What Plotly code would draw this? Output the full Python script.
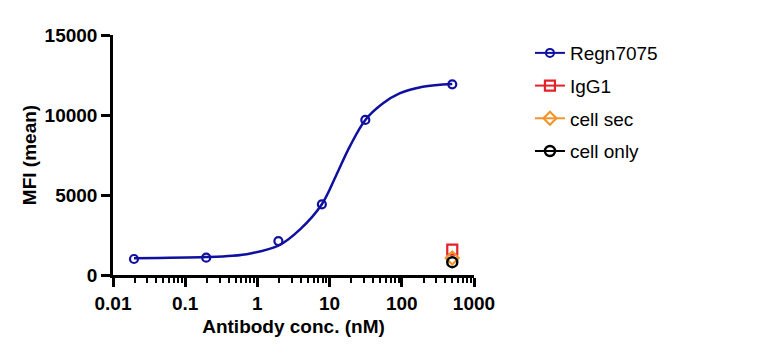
import plotly.graph_objects as go

# --- data ---
conc = [0.01953, 0.1953, 1.953, 7.8125, 31.25, 500]
regn7075 = [1000, 1080, 2120, 4420, 9690, 11920]

# fitted curve
fit_conc = [0.01953, 0.1953, 0.45, 0.8, 1.953, 3.9, 7.8125, 12.4, 19, 31.25, 55, 93, 195, 500]
fit_mfi = [1040, 1120, 1200, 1350, 1830, 2850, 4420, 6250, 8020, 9690, 10730, 11350, 11770, 11940]

ctrl_conc = [500]
igg1 = [1580]
cell_sec = [1060]
cell_only = [800]

x_tickvals = [0.01, 0.1, 1, 10, 100, 1000]
x_ticktext = ["0.01", "0.1", "1", "10", "100", "1000"]
y_tickvals = [0, 5000, 10000, 15000]
y_ticktext = ["0", "5000", "10000", "15000"]

BLUE = "#1010a0"
RED = "#e3222a"
ORANGE = "#f0952a"
BLACK = "#000000"
FONT = "Arial, Liberation Sans, sans-serif"

fig = go.Figure()

# fitted curve
fig.add_trace(go.Scatter(x=fit_conc, y=fit_mfi, mode="lines", line=dict(color=BLUE, width=2.5, shape="spline"),
                         showlegend=False, hoverinfo="skip"))
# data points
fig.add_trace(go.Scatter(x=conc, y=regn7075, mode="markers",
                         marker=dict(symbol="circle-open", size=8, color=BLUE, line=dict(width=2.2, color=BLUE)),
                         showlegend=False, name="Regn7075"))
# legend entry for Regn7075
fig.add_trace(go.Scatter(x=[None], y=[None], mode="lines+markers", name="Regn7075", legendgroup="a",
                         line=dict(color=BLUE, width=2),
                         marker=dict(symbol="circle-open", size=8, color=BLUE, line=dict(width=2, color=BLUE))))

fig.add_trace(go.Scatter(x=ctrl_conc, y=igg1, mode="lines+markers", name="IgG1", legendgroup="b",
                         line=dict(color=RED, width=2),
                         marker=dict(symbol="square-open", size=10, color=RED, line=dict(width=2.2, color=RED))))
fig.add_trace(go.Scatter(x=ctrl_conc, y=cell_sec, mode="lines+markers", name="cell sec", legendgroup="c",
                         line=dict(color=ORANGE, width=2),
                         marker=dict(symbol="diamond-open", size=10, color=ORANGE, line=dict(width=2.2, color=ORANGE))))
fig.add_trace(go.Scatter(x=ctrl_conc, y=cell_only, mode="lines+markers", name="cell only", legendgroup="d",
                         line=dict(color=BLACK, width=2),
                         marker=dict(symbol="circle-open", size=10, color=BLACK, line=dict(width=2.5, color=BLACK))))

fig.update_layout(
    width=761, height=347,
    margin=dict(l=105, r=295, t=27, b=80),
    paper_bgcolor="white", plot_bgcolor="white",
    font=dict(family=FONT, color="black", size=19),
    legend=dict(x=1.155, y=1.004, xanchor="left", yanchor="top", traceorder="grouped",
                tracegroupgap=5, font=dict(size=19, family=FONT, color="black"),
                bgcolor="rgba(0,0,0,0)"),
    xaxis=dict(type="log", range=[-2, 3], tickvals=x_tickvals, ticktext=x_ticktext,
               showgrid=False, zeroline=False, showline=True, linecolor="black", linewidth=2.5,
               ticks="outside", ticklen=9, tickwidth=2.5, tickcolor="black",
               tickfont=dict(size=19, family=FONT, weight="bold"),
               minor=dict(ticks="outside", ticklen=5, tickwidth=2, tickcolor="black", dtick="D1", showgrid=False),
               title=dict(text="Antibody conc. (nM)", font=dict(size=19, family=FONT, weight="bold"), standoff=8)),
    yaxis=dict(range=[0, 15000], tickvals=y_tickvals, ticktext=y_ticktext,
               showgrid=False, zeroline=False, showline=True, linecolor="black", linewidth=2.5,
               ticks="outside", ticklen=9, tickwidth=2.5, tickcolor="black",
               tickfont=dict(size=19, family=FONT, weight="bold"),
               title=dict(text="MFI (mean)", font=dict(size=19, family=FONT, weight="bold"), standoff=3)),
)

fig.write_html("out.html")
